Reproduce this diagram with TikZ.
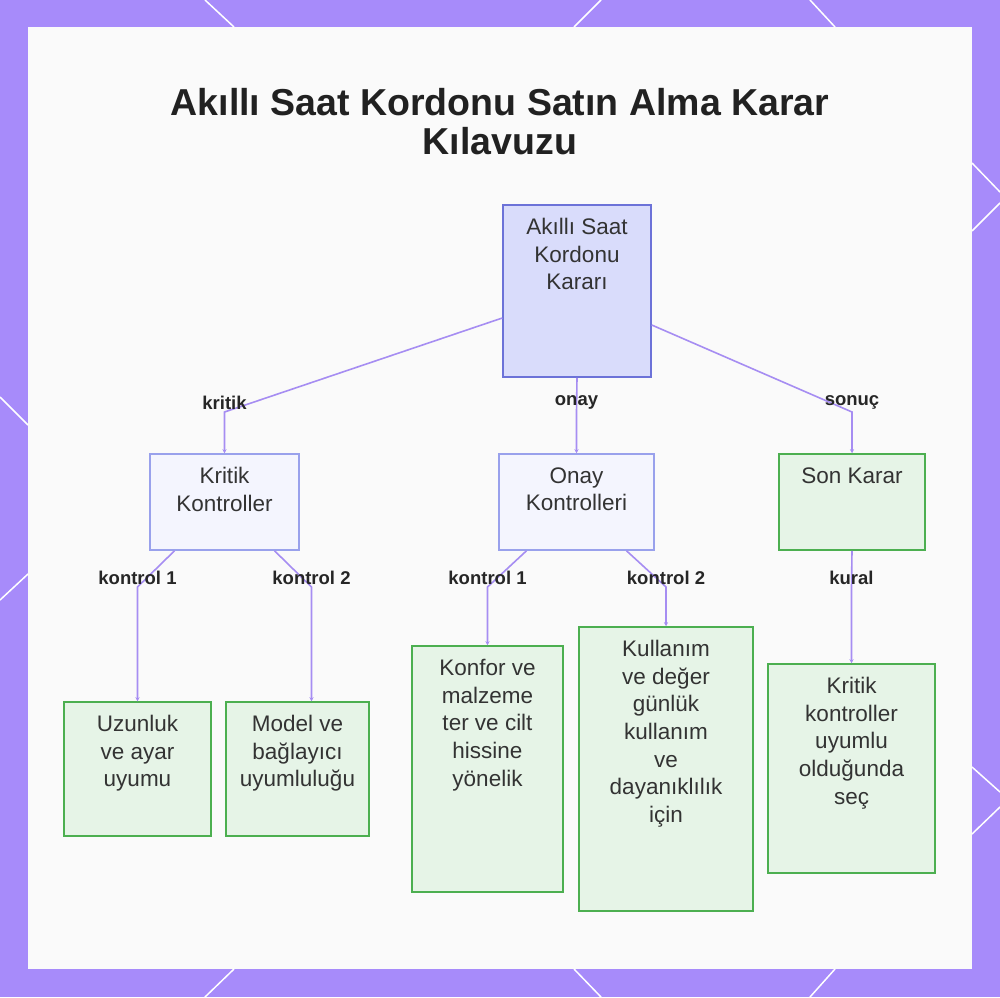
\documentclass[tikz,border=0pt]{standalone}
\usepackage{fontspec}
\setmainfont{Liberation Sans}
\usepackage{xcolor}
\usepackage{tikz}
\usetikzlibrary{arrows.meta}

\definecolor{framepurple}{HTML}{A78BFA}
\definecolor{linkpurple}{HTML}{A68DF2}
\definecolor{rootfill}{HTML}{D9DCFB}
\definecolor{rootdraw}{HTML}{6C72D8}
\definecolor{groupfill}{HTML}{F4F5FE}
\definecolor{groupdraw}{HTML}{99A1EC}
\definecolor{leaffill}{HTML}{E6F4E7}
\definecolor{leafdraw}{HTML}{4CAF50}
\definecolor{textgray}{HTML}{333333}

\tikzset{
  boxtext/.style={label={[anchor=north, align=center, inner sep=0pt, yshift=-14pt, font=\fontsize{22.5}{27.6}\selectfont, text=textgray]north:#1}},
  rootbox/.style={draw=rootdraw, fill=rootfill, line width=1.5pt, inner sep=0pt},
  groupbox/.style={draw=groupdraw, fill=groupfill, line width=1.5pt, inner sep=0pt},
  leafbox/.style={draw=leafdraw, fill=leaffill, line width=1.5pt, inner sep=0pt},
  link/.style={draw=linkpurple, line width=1.6pt, -{Stealth[length=4pt, width=4pt]}},
  edgelabel/.style={font=\fontsize{18.5}{20}\selectfont\bfseries, text=black!85, inner sep=2pt},
  frameline/.style={draw=white, line width=1.5pt},
}

\begin{document}
\begin{tikzpicture}[x=1pt, y=-1pt]
            \useasboundingbox (0,0) rectangle (1000,997);
            \fill[framepurple] (0,0) rectangle (1000,997);
            \fill[white!96!gray] (28,27) rectangle (972,969);

            \draw[frameline] (205,0) -- (234,27);
            \draw[frameline] (601,0) -- (574,27);
            \draw[frameline] (810,0) -- (835,27);
            \draw[frameline] (234,969) -- (205,997);
            \draw[frameline] (574,969) -- (601,997);
            \draw[frameline] (835,969) -- (810,997);
            \draw[frameline] (0,397) -- (28,425);
            \draw[frameline] (28,574) -- (0,600);
            \draw[frameline] (972,163) -- (1000,192);
            \draw[frameline] (972,231) -- (1000,203);
            \draw[frameline] (972,767) -- (1000,792);
            \draw[frameline] (972,834) -- (1000,807);

            \node[font=\fontsize{37.5}{39}\selectfont\bfseries, text=black!87, align=center] (titel) at (500,122) {Akıllı Saat Kordonu Satın Alma Karar\\Kılavuzu};

            \node[rootbox, minimum width=148pt, minimum height=172pt, boxtext={Akıllı Saat\\Kordonu\\Kararı}] (karar) at (577,291) {};

            \node[groupbox, minimum width=149pt, minimum height=96pt, boxtext={Kritik\\Kontroller}] (kritik) at (224.5,502) {};
            \node[groupbox, minimum width=155pt, minimum height=96pt, boxtext={Onay\\Kontrolleri}] (onay) at (576.5,502) {};
            \node[leafbox, minimum width=146pt, minimum height=96pt, boxtext={Son Karar}] (son) at (852,502) {};

            \node[leafbox, minimum width=147pt, minimum height=134pt, boxtext={Uzunluk\\ve ayar\\uyumu}] (uzunluk) at (137.5,769) {};
            \node[leafbox, minimum width=143pt, minimum height=134pt, boxtext={Model ve\\bağlayıcı\\uyumluluğu}] (model) at (297.5,769) {};
            \node[leafbox, minimum width=151pt, minimum height=246pt, boxtext={Konfor ve\\malzeme\\ter ve cilt\\hissine\\yönelik}] (konfor) at (487.5,769) {};
            \node[leafbox, minimum width=174pt, minimum height=284pt, boxtext={Kullanım\\ve değer\\günlük\\kullanım\\ve\\dayanıklılık\\için}] (kullanim) at (666,769) {};
            \node[leafbox, minimum width=167pt, minimum height=209pt, boxtext={Kritik\\kontroller\\uyumlu\\olduğunda\\seç}] (secim) at (851.5,768.5) {};

            \draw[link] ([yshift=-27pt]karar.west) -- (kritik.north |- 0,412) node[edgelabel, above]{kritik} -- (kritik.north);
            \draw[link] (karar.south) -- (onay.north |- 0,412) node[edgelabel, above]{onay} -- (onay.north);
            \draw[link] ([yshift=-34pt]karar.east) -- (son.north |- 0,412) node[edgelabel, above]{sonuç} -- (son.north);

            \draw[link] ([xshift=-50pt]kritik.south) -- (uzunluk.north |- 0,587) node[edgelabel, above]{kontrol 1} -- (uzunluk.north);
            \draw[link] ([xshift=50pt]kritik.south) -- ([xshift=14pt]model.north |- 0,587) node[edgelabel, above]{kontrol 2} -- ([xshift=14pt]model.north);
            \draw[link] ([xshift=-50pt]onay.south) -- (konfor.north |- 0,587) node[edgelabel, above]{kontrol 1} -- (konfor.north);
            \draw[link] ([xshift=50pt]onay.south) -- (kullanim.north |- 0,587) node[edgelabel, above]{kontrol 2} -- (kullanim.north);
            \draw[link] (son.south) -- (secim.north |- 0,587) node[edgelabel, above]{kural} -- (secim.north);

        \end{tikzpicture}
\end{document}
